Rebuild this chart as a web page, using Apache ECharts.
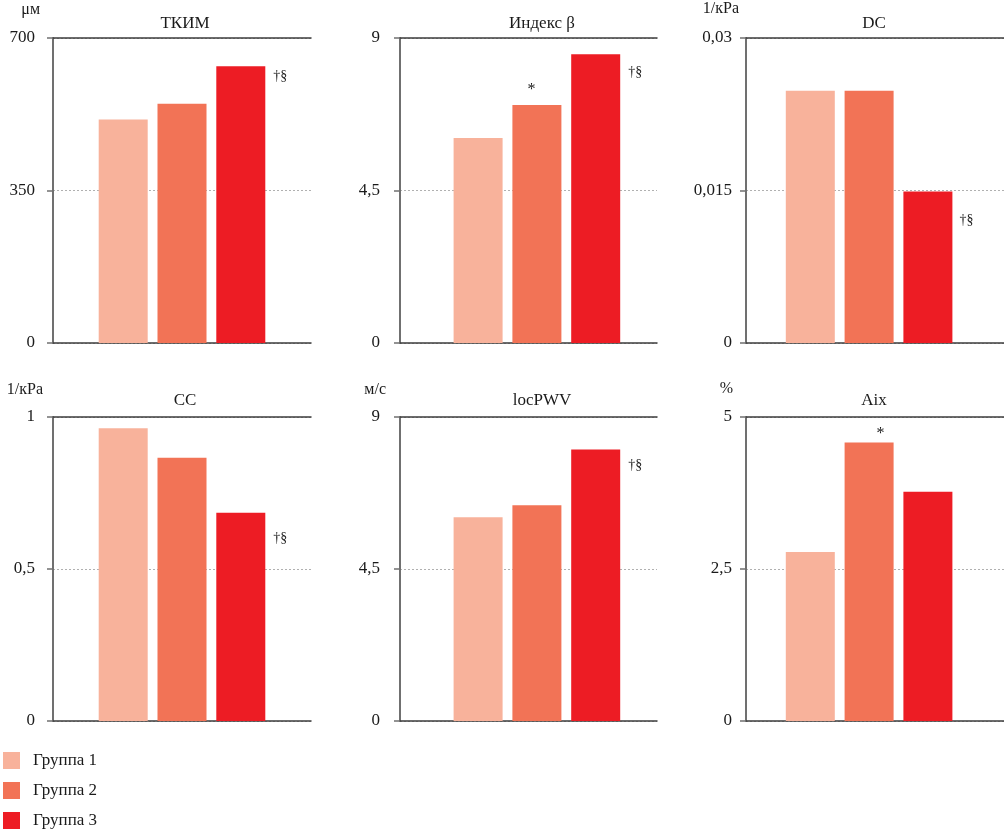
<!DOCTYPE html>
<html><head><meta charset="utf-8">
<script src="https://cdn.jsdelivr.net/npm/echarts@6/dist/echarts.min.js"></script>
<style>html,body{margin:0;padding:0;background:#fff}#c{width:1004px;height:832px}</style>
</head><body><div id="c"></div>
<script>
// ---- data ----
const groups = ['Группа 1', 'Группа 2', 'Группа 3'];
const panelTitles = ['ТКИМ', 'Индекс β', 'DC', 'CC', 'locPWV', 'Aix'];
const units = ['μм', '', '1/кPa', '1/кPa', 'м/с', '%'];
const axisMax = [700, 9, 0.03, 1, 9, 5];
const tkimValues = [513, 549, 635];
const betaValues = [6.05, 7.02, 8.52];
const dcValues = [0.0248, 0.0248, 0.0149];
const ccValues = [0.963, 0.866, 0.685];
const pwvValues = [6.03, 6.39, 8.04];
const aixValues = [2.78, 4.58, 3.77];
const panelValues = [tkimValues, betaValues, dcValues, ccValues, pwvValues, aixValues];
const marks = [
  ['', '', '†§'],
  ['', '*', '†§'],
  ['', '', '†§'],
  ['', '', '†§'],
  ['', '', '†§'],
  ['', '*', '']
];

// ---- layout / style ----
const colors = ['#F8B29B', '#F27356', '#ED1C24'];
const serif = '"Liberation Serif", "Times New Roman", serif';
const cols = [
  { left: 53, width: 258, margin: 18, spacerFirst: 0, spacerLast: 0, center: 180 },
  { left: 400, width: 257, margin: 20, spacerFirst: 14, spacerLast: 0, center: 537 },
  { left: 746, width: 258, margin: 14, spacerFirst: 0, spacerLast: 2, center: 869 }
];
const rows = [
  { top: 38, height: 305, titleTop: 10 },
  { top: 417, height: 304, titleTop: 387 }
];
const unitStyle = [
  { gap: 28, pad: 13 }, { gap: 28, pad: 10 }, { gap: 29, pad: 7 },
  { gap: 27, pad: 10 }, { gap: 27, pad: 14 }, { gap: 28, pad: 13 }
];
const markPos = [
  [null, null, [57, 10]],
  [null, [19, -15], [57, 18]],
  [null, null, [56, 29]],
  [null, null, [57, 26]],
  [null, null, [57, 16]],
  [null, [36, -9], null]
];

const grid = [], xAxis = [], yAxis = [], series = [], title = [];
for (let p = 0; p < 6; p++) {
  const c = cols[p % 3], r = rows[Math.floor(p / 3)];
  grid.push({ left: c.left, top: r.top, width: c.width, height: r.height });
  title.push({
    text: panelTitles[p], left: c.center, top: r.titleTop, textAlign: 'center',
    textStyle: { fontFamily: serif, fontSize: 17, fontWeight: 'normal', color: '#1a1a1a' }
  });
  const xb = xAxis.length;
  xAxis.push({
    type: 'category', gridIndex: p, data: [panelTitles[p]], position: 'bottom',
    axisLine: { show: true, lineStyle: { color: '#3c3c3c', width: 1.5 } },
    axisTick: { show: false }, axisLabel: { show: false }, splitLine: { show: false }
  });
  xAxis.push({
    type: 'category', gridIndex: p, data: [panelTitles[p]], position: 'top',
    axisLine: { show: true, lineStyle: { color: '#3c3c3c', width: 1.5 } },
    axisTick: { show: false }, axisLabel: { show: false }, splitLine: { show: false }
  });
  yAxis.push({
    type: 'value', gridIndex: p, min: 0, max: axisMax[p], interval: axisMax[p] / 2,
    name: units[p], nameLocation: 'end', nameGap: unitStyle[p].gap,
    nameTextStyle: { fontFamily: serif, fontSize: 16, color: '#1a1a1a', align: 'right', verticalAlign: 'middle', padding: [0, unitStyle[p].pad, 0, 0] },
    axisLine: { show: true, lineStyle: { color: '#707070', width: 2 } },
    axisTick: { show: true, length: 6, lineStyle: { color: '#707070', width: 1.5 } },
    axisLabel: {
      fontFamily: serif, fontSize: 17, color: '#1a1a1a', margin: c.margin,
      formatter: v => String(+v.toFixed(4)).replace('.', ',')
    },
    splitLine: { show: true, lineStyle: { color: '#b0b0b0', width: 1, type: [2, 2] } }
  });
  const spacer = w => ({
    type: 'bar', name: '_sp', xAxisIndex: xb, yAxisIndex: p, data: ['-'],
    barWidth: w, barGap: '20%', silent: true, itemStyle: { color: 'transparent' }
  });
  if (c.spacerFirst) series.push(spacer(c.spacerFirst));
  for (let g = 0; g < 3; g++) {
    const m = marks[p][g], pos = markPos[p][g];
    const isStar = m === '*';
    series.push({
      type: 'bar', name: groups[g], xAxisIndex: xb, yAxisIndex: p,
      data: [panelValues[p][g]], barWidth: 49, barGap: '20%',
      itemStyle: { color: colors[g] },
      label: m ? {
        show: true, formatter: m, position: pos,
        align: isStar ? 'center' : 'left', verticalAlign: 'middle',
        fontFamily: serif, fontSize: isStar ? 16 : 14, color: '#1a1a1a'
      } : { show: false },
      emphasis: { disabled: true }
    });
  }
  if (c.spacerLast) series.push(spacer(c.spacerLast));
}

const chart = echarts.init(document.getElementById('c'), null, { renderer: 'canvas' });
chart.setOption({
  animation: false,
  title, grid, xAxis, yAxis, series,
  legend: {
    data: groups, orient: 'vertical', left: 3, top: 752, padding: 0,
    itemWidth: 17, itemHeight: 17, itemGap: 13, icon: 'rect',
    textStyle: { fontFamily: serif, fontSize: 17, color: '#1a1a1a', padding: [0, 0, 0, 8] },
    selectedMode: false
  }
});
</script>
</body></html>
